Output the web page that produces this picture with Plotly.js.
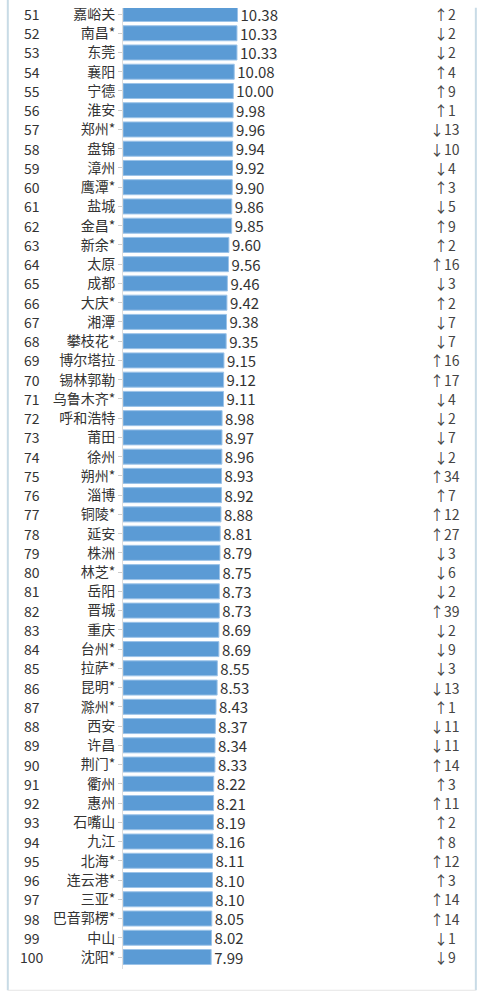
<!DOCTYPE html>
<html>
<head>
<meta charset="utf-8">
<script src="https://cdn.plot.ly/plotly-3.0.1.min.js"></script>
<style>html,body{margin:0;padding:0;background:#fff;}#chart{width:485px;height:1000px;}</style>
</head>
<body>
<div id="chart"></div>
<script>
const ranks = [51,52,53,54,55,56,57,58,59,60,61,62,63,64,65,66,67,68,69,70,71,72,73,74,75,76,77,78,79,80,81,82,83,84,85,86,87,88,89,90,91,92,93,94,95,96,97,98,99,100];
const cities = ["嘉峪关","南昌*","东莞","襄阳","宁德","淮安","郑州*","盘锦","漳州","鹰潭*","盐城","金昌*","新余*","太原","成都","大庆*","湘潭","攀枝花*","博尔塔拉","锡林郭勒","乌鲁木齐*","呼和浩特","莆田","徐州","朔州*","淄博","铜陵*","延安","株洲","林芝*","岳阳","晋城","重庆","台州*","拉萨*","昆明*","滁州*","西安","许昌","荆门*","衢州","惠州","石嘴山","九江","北海*","连云港*","三亚*","巴音郭楞*","中山","沈阳*"];
const values = [10.38,10.33,10.33,10.08,10.00,9.98,9.96,9.94,9.92,9.90,9.86,9.85,9.60,9.56,9.46,9.42,9.38,9.35,9.15,9.12,9.11,8.98,8.97,8.96,8.93,8.92,8.88,8.81,8.79,8.75,8.73,8.73,8.69,8.69,8.55,8.53,8.43,8.37,8.34,8.33,8.22,8.21,8.19,8.16,8.11,8.10,8.10,8.05,8.02,7.99];
const changes = [2,-2,-2,4,9,1,-13,-10,-4,3,-5,9,2,16,-3,2,-7,-7,16,17,-4,-2,-7,-2,34,7,12,27,-3,-6,-2,39,-2,-9,-3,-13,1,-11,-11,14,3,11,2,8,12,3,14,14,-1,-9];

const font = "'Noto Sans CJK SC', 'Noto Sans', sans-serif";

const trace = {
  type: 'bar',
  orientation: 'h',
  y: cities,
  x: values,
  text: values.map(v => v.toFixed(2)),
  textposition: 'outside',
  constraintext: 'none',
  cliponaxis: false,
  textfont: {family: font, size: 15, color: '#333'},
  marker: {color: '#5b9bd5', line: {color: '#9cc3e8', width: 1}},
  hoverinfo: 'none'
};

const annotations = [];
cities.forEach((c, i) => {
  annotations.push({
    xref: 'paper', yref: 'y', x: -0.275, y: c, xanchor: 'center', yanchor: 'middle',
    text: String(ranks[i]), showarrow: false,
    font: {family: font, size: 14, color: '#333'}
  });
  const ch = changes[i];
  annotations.push({
    xref: 'paper', yref: 'y', x: 0.973, y: c, xanchor: 'center', yanchor: 'middle',
    text: (ch >= 0 ? '↑' : '↓') + Math.abs(ch), showarrow: false,
    font: {family: font, size: 14, color: '#444'}
  });
});

const layout = {
  width: 485, height: 1000,
  margin: {l: 123, r: 31, t: 2, b: 31},
  paper_bgcolor: '#fff', plot_bgcolor: '#fff',
  showlegend: false,
  bargap: 0.22,
  xaxis: {range: [0, 30], visible: false, fixedrange: true},
  yaxis: {
    type: 'category', autorange: 'reversed',
    ticks: 'outside', ticklen: 4, tickcolor: '#ccc', tickwidth: 1,
    showline: true, linecolor: '#ddd', linewidth: 1,
    showgrid: false, zeroline: false,
    tickfont: {family: font, size: 14, color: '#333'}
  },
  annotations: annotations,
  shapes: [
    {type: 'rect', xref: 'paper', yref: 'paper', x0: -0.33, x1: 1.2, y0: 1.01, y1: 0.9938, fillcolor: '#fff', line: {width: 0}, layer: 'above'},
    {type: 'line', xref: 'paper', yref: 'paper', x0: -0.348, x1: -0.348, y0: 1.01, y1: -0.022, line: {color: '#c8dbe6', width: 2}},
    {type: 'line', xref: 'paper', yref: 'paper', x0: 1.066, x1: 1.066, y0: 0.994, y1: -0.022, line: {color: '#c8dbe6', width: 2}},
    {type: 'line', xref: 'paper', yref: 'paper', x0: -0.348, x1: 1.066, y0: -0.022, y1: -0.022, line: {color: '#e6e6e6', width: 1}}
  ]
};

Plotly.newPlot('chart', [trace], layout, {staticPlot: true, displayModeBar: false});
</script>
</body>
</html>
